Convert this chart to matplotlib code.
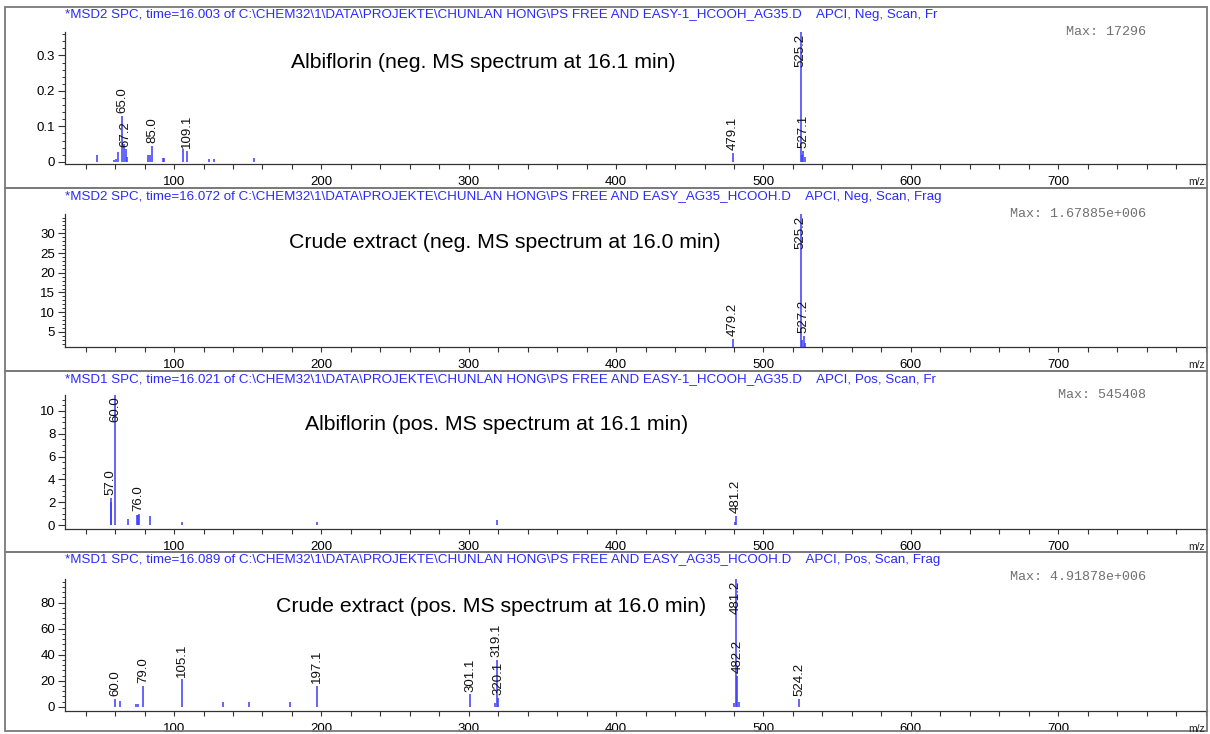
import matplotlib
matplotlib.use("Agg")
import matplotlib.pyplot as plt
from matplotlib.patches import Rectangle
from matplotlib.ticker import MultipleLocator

W, H = 1210, 734
PEAK_C = "#3b3bff"
HEAD_C = "#2a2aff"
plt.rcParams["font.family"] = ["Liberation Sans", "DejaVu Sans"]

# --- spectra: labelled peaks and unlabelled peaks (m/z, abundance) ---------
neg_alb_mz = [65.0, 67.2, 85.0, 109.1, 479.1, 525.2, 527.1]
neg_alb_int = [0.13, 0.035, 0.045, 0.03, 0.025, 0.366, 0.03]
neg_alb_minor_mz = [48, 59, 60.5, 62, 66, 68, 82.5, 84, 92.5, 93.5, 106, 124, 127, 154, 526, 528]
neg_alb_minor_int = [0.018, 0.005, 0.008, 0.028, 0.05, 0.015, 0.02, 0.02, 0.01, 0.01, 0.035,
                     0.008, 0.008, 0.01, 0.02, 0.015]

neg_crude_mz = [479.2, 525.2, 527.2]
neg_crude_int = [3.2, 34.9, 4.0]
neg_crude_minor_mz = [526.2, 528.2]
neg_crude_minor_int = [3.0, 2.2]

pos_alb_mz = [57.0, 60.0, 76.0, 481.2]
pos_alb_int = [2.4, 11.4, 1.0, 0.8]
pos_alb_minor_mz = [57.5, 68.5, 75.0, 75.5, 83.5, 105.5, 197, 319, 480.5]
pos_alb_minor_int = [2.0, 0.5, 0.9, 0.9, 0.8, 0.3, 0.3, 0.4, 0.3]

pos_crude_mz = [60.0, 79.0, 105.1, 197.1, 301.1, 319.1, 320.1, 481.2, 482.2, 524.2]
pos_crude_int = [6.3, 16, 21, 16, 9.5, 36, 7, 98.2, 24, 6.3]
pos_crude_minor_mz = [63.5, 74.5, 75.5, 133, 151, 179, 318, 480, 483.2]
pos_crude_minor_int = [4.2, 2.4, 2.4, 3.4, 3.4, 3.6, 3.0, 3.0, 3.5]

headers = [
    r"*MSD2 SPC, time=16.003 of C:\CHEM32\1\DATA\PROJEKTE\CHUNLAN HONG\PS FREE AND EASY-1_HCOOH_AG35.D    APCI, Neg, Scan, Fr",
    r"*MSD2 SPC, time=16.072 of C:\CHEM32\1\DATA\PROJEKTE\CHUNLAN HONG\PS FREE AND EASY_AG35_HCOOH.D    APCI, Neg, Scan, Frag",
    r"*MSD1 SPC, time=16.021 of C:\CHEM32\1\DATA\PROJEKTE\CHUNLAN HONG\PS FREE AND EASY-1_HCOOH_AG35.D    APCI, Pos, Scan, Fr",
    r"*MSD1 SPC, time=16.089 of C:\CHEM32\1\DATA\PROJEKTE\CHUNLAN HONG\PS FREE AND EASY_AG35_HCOOH.D    APCI, Pos, Scan, Frag",
]
max_texts = ["Max: 17296", "Max: 1.67885e+006", "Max: 545408", "Max: 4.91878e+006"]
titles = [
    "Albiflorin (neg. MS spectrum at 16.1 min)",
    "Crude extract (neg. MS spectrum at 16.0 min)",
    "Albiflorin (pos. MS spectrum at 16.1 min)",
    "Crude extract (pos. MS spectrum at 16.0 min)",
]

panels = [
    dict(mz=neg_alb_mz, y=neg_alb_int, mmz=neg_alb_minor_mz, my=neg_alb_minor_int,
         ylim=(-0.006, 0.366), base=0, major=0.1, minor=0.02, fmt="{:.1f}",
         frame=(7, 188), ax_px=(32, 164), head_y=15, max_y=32, title_xy=(483, 63)),
    dict(mz=neg_crude_mz, y=neg_crude_int, mmz=neg_crude_minor_mz, my=neg_crude_minor_int,
         ylim=(1.17, 34.9), base=1.17, major=5, minor=1, fmt="{:.0f}",
         frame=(188, 371), ax_px=(214, 347), head_y=197, max_y=214, title_xy=(505, 243)),
    dict(mz=pos_alb_mz, y=pos_alb_int, mmz=pos_alb_minor_mz, my=pos_alb_minor_int,
         ylim=(-0.35, 11.4), base=0, major=2, minor=0.5, fmt="{:.0f}",
         frame=(371, 552), ax_px=(395, 529), head_y=379, max_y=395, title_xy=(497, 424)),
    dict(mz=pos_crude_mz, y=pos_crude_int, mmz=pos_crude_minor_mz, my=pos_crude_minor_int,
         ylim=(-3.2, 98.2), base=0, major=20, minor=4, fmt="{:.0f}",
         frame=(552, 731), ax_px=(579, 711), head_y=560, max_y=577, title_xy=(491, 607)),
]

fig = plt.figure(figsize=(W / 100, H / 100), dpi=100)
fig.patch.set_facecolor("white")


def fx(x):
    return x / W


def fy(y):
    return 1 - y / H


AX_L, AX_R = 65, 1207
for i, p in enumerate(panels):
    top, bot = p["frame"]
    fig.patches.append(Rectangle((fx(5), fy(bot)), fx(1207) - fx(5), fy(top) - fy(bot),
                                 transform=fig.transFigure, fill=False,
                                 edgecolor="#7a7a7a", lw=1.3, zorder=0))
    at, ab = p["ax_px"]
    ax = fig.add_axes([fx(AX_L), fy(ab), fx(AX_R) - fx(AX_L), fy(at) - fy(ab)])
    ax.patch.set_alpha(0)
    ax.set_xlim(26, 801)
    ax.set_ylim(*p["ylim"])
    for s in ("top", "right"):
        ax.spines[s].set_visible(False)
    for s in ("left", "bottom"):
        ax.spines[s].set_color("#333333")
        ax.spines[s].set_linewidth(0.9)

    ax.xaxis.set_major_locator(MultipleLocator(100))
    ax.xaxis.set_minor_locator(MultipleLocator(20))
    ax.yaxis.set_major_locator(MultipleLocator(p["major"]))
    ax.yaxis.set_minor_locator(MultipleLocator(p["minor"]))
    ax.tick_params(axis="x", which="both", direction="out", length=3.5, width=0.8,
                   color="#333333", labelsize=9.5, pad=5)
    ax.tick_params(axis="y", which="major", direction="out", length=5, width=0.8,
                   color="#333333", labelsize=9.5, pad=2)
    ax.tick_params(axis="y", which="minor", direction="out", length=2.5, width=0.7,
                   color="#333333")
    ax.set_xticks([100, 200, 300, 400, 500, 600, 700])
    yt = [t for t in ax.get_yticks() if p["ylim"][0] <= t <= p["ylim"][1]]
    if p["base"] > 0:
        yt = [t for t in yt if t > 0]
    ax.set_yticks(yt)
    ax.set_yticklabels([p["fmt"].format(t) if t != 0 else "0" for t in yt])

    # unlabelled and labelled peaks
    ax.vlines(p["mmz"], p["base"], p["my"], color=PEAK_C, lw=1.1)
    ax.vlines(p["mz"], p["base"], p["y"], color=PEAK_C, lw=1.1)
    ytop = p["ylim"][1]
    for mz, h in zip(p["mz"], p["y"]):
        if h >= 0.9 * ytop:
            ax.annotate(f"{mz:.1f}", xy=(mz, ytop), xytext=(0, -1), textcoords="offset points",
                        rotation=90, ha="center", va="top", fontsize=9.5, color="#111111")
        else:
            ax.annotate(f"{mz:.1f}", xy=(mz, h), xytext=(0, 2), textcoords="offset points",
                        rotation=90, ha="center", va="bottom", fontsize=9.5, color="#111111")

    fig.text(fx(65), fy(p["head_y"]), headers[i], color=HEAD_C, fontsize=9.65,
             ha="left", va="center")
    fig.text(fx(1146), fy(p["max_y"]), max_texts[i], color="#707070", fontsize=9.6,
             family="Liberation Mono", ha="right", va="center")
    tx, ty = p["title_xy"]
    fig.text(fx(tx), fy(ty), titles[i], fontsize=15.3, ha="center", va="center", color="black")
    fig.text(fx(1205), fy(ab + 18), "m/z", fontsize=7.5, ha="right", va="center", color="#222222")

fig.savefig("out.png", dpi=100)
